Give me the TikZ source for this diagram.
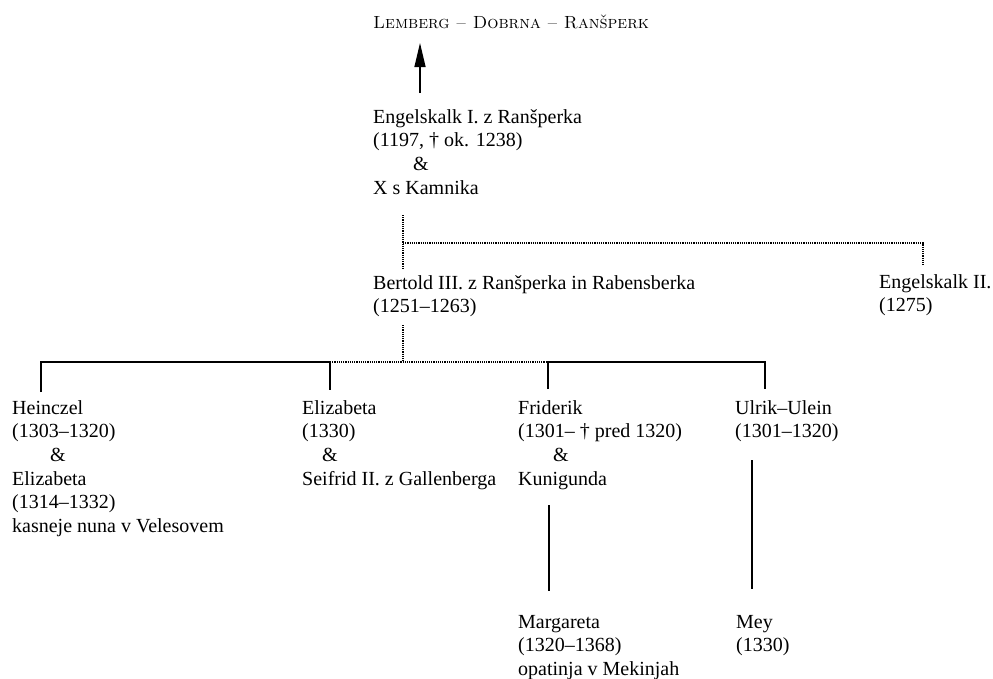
\documentclass[tikz,border=0pt]{standalone}
\usepackage{fontspec}
\newfontfamily\bodyfont{Liberation Serif}
\usetikzlibrary{arrows.meta}
\newcommand{\gen}[1]{\begin{tabular}[t]{@{}l@{}}#1\end{tabular}}
\tikzset{
  house/.style={anchor=base west,inner sep=0pt,font=\fontsize{17.6}{21}\selectfont},
  person/.style={anchor=base west,inner sep=0pt,font=\bodyfont\fontsize{20}{23.7}\selectfont},
  kin/.style={draw=black,line width=1.5pt},
  unsure/.style={draw=black,line width=1.2pt,densely dotted},
  lineage/.style={draw=black,line width=1.4pt,-{Triangle[length=24pt,width=11pt]}},
}

\begin{document}
\begin{tikzpicture}[x=1pt,y=-1pt]
\useasboundingbox[fill=white] (0,0) rectangle (993,678);
% family and its line of descent
\node[house] (rod) at (373,28) {\textsc{Lemberg – Dobrna – Ranšperk}};
\coordinate (e1up) at (420,93);
\coordinate (e1tip) at (420,43);
\draw[lineage] (e1up) -- (e1tip);
\node[person] (engI) at (373,123) {\gen{Engelskalk I. z Ranšperka\\(1197, † ok. 1238)\\\hspace*{40pt}\&\\X s Kamnika}};
% sons of Engelskalk I.
\coordinate (s1) at (403,215);
\coordinate (s2) at (403,268);
\coordinate (s3) at (403,243);
\coordinate (s4) at (923,243);
\coordinate (s5) at (923,266);
\draw[unsure] (s1) -- (s2);
\draw[unsure] (s3) -- (s4) -- (s5);
\node[person] (bert) at (373,289) {\gen{Bertold III. z Ranšperka in Rabensberka\\(1251–1263)}};
\node[person] (engII) at (879,288) {\gen{Engelskalk II.\\(1275)}};
% children of Bertold III.
\coordinate (b1) at (403,325);
\coordinate (b2) at (403,362);
\draw[unsure] (b1) -- (b2);
\coordinate (h1) at (41,392);
\coordinate (h2) at (41,362);
\coordinate (z1) at (330,390);
\coordinate (z2) at (330,362);
\coordinate (f1) at (548,389);
\coordinate (f2) at (548,362);
\coordinate (u1) at (765,389);
\coordinate (u2) at (765,362);
\draw[kin] (h1) -- (h2) -- (z2) -- (z1);
\draw[unsure] (z2) -- (f2);
\draw[kin] (f1) -- (f2) -- (u2) -- (u1);
\node[person] (hein) at (12,414) {\gen{Heinczel\\(1303–1320)\\\hspace*{38pt}\&\\Elizabeta\\(1314–1332)\\kasneje nuna v Velesovem}};
\node[person] (eliz) at (302,414) {\gen{Elizabeta\\(1330)\\\hspace*{20pt}\&\\Seifrid II. z Gallenberga}};
\node[person] (frid) at (518,414) {\gen{Friderik\\(1301– † pred 1320)\\\hspace*{35pt}\&\\Kunigunda}};
\node[person] (ulr) at (735,414) {\gen{Ulrik–Ulein\\(1301–1320)}};
% grandchildren
\coordinate (fd1) at (549,505);
\coordinate (fd2) at (549,591);
\coordinate (ud1) at (752,460);
\coordinate (ud2) at (752,589);
\draw[kin] (fd1) -- (fd2);
\draw[kin] (ud1) -- (ud2);
\node[person] (marg) at (518,628) {\gen{Margareta\\(1320–1368)\\opatinja v Mekinjah}};
\node[person] (mey) at (736,628) {\gen{Mey\\(1330)}};
\end{tikzpicture}
\end{document}
